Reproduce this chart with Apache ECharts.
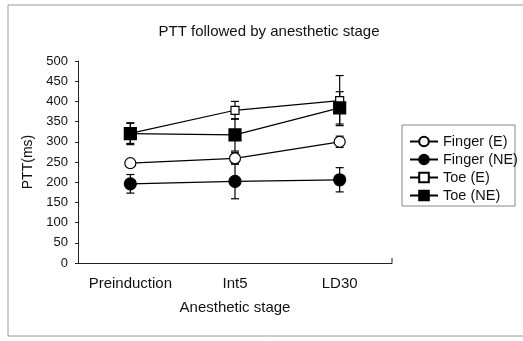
<!DOCTYPE html>
<html><head><meta charset="utf-8">
<script src="https://cdn.jsdelivr.net/npm/echarts@6/dist/echarts.min.js"></script>
<style>html,body{margin:0;padding:0;background:#fff}#c{width:523px;height:341px}</style>
</head><body><div id="c"></div>
<script>
const categories = ['Preinduction', 'Int5', 'LD30'];
const fingerE = [247, 259, 300];
const fingerEerr = [8, 14, 14];
const fingerNE = [196, 202, 206];
const fingerNEerr = [23, 43, 30];
const toeE = [321, 378, 402];
const toeEerr = [25, 22, 62];
const toeNE = [320, 317, 384];
const toeNEerr = [27, 40, 40];
const yTicks = [0, 50, 100, 150, 200, 250, 300, 350, 400, 450, 500];

const chart = echarts.init(document.getElementById('c'));
const F = 'Liberation Sans, Arial, sans-serif';

function errSeries(vals, errs) {
  return {
    type: 'custom', silent: true, z: 1,
    data: vals.map((v, i) => [i, v - errs[i], v + errs[i]]),
    renderItem: function (params, api) {
      const lo = api.coord([api.value(0), api.value(1)]);
      const hi = api.coord([api.value(0), api.value(2)]);
      const w = 4;
      const st = {stroke: '#000', lineWidth: 1.2};
      return {type: 'group', children: [
        {type: 'line', shape: {x1: lo[0], y1: lo[1], x2: hi[0], y2: hi[1]}, style: st},
        {type: 'line', shape: {x1: lo[0]-w, y1: lo[1], x2: lo[0]+w, y2: lo[1]}, style: st},
        {type: 'line', shape: {x1: hi[0]-w, y1: hi[1], x2: hi[0]+w, y2: hi[1]}, style: st}
      ]};
    }
  };
}
function lineSeries(name, vals, symbol, size, filled) {
  return {
    name: name, type: 'line', data: vals, symbol: symbol, symbolSize: size, z: 3,
    lineStyle: {color: '#000', width: 1.2},
    itemStyle: {color: filled ? '#000' : '#fff', borderColor: '#000', borderWidth: 1.2, opacity: 1},
    emphasis: {disabled: true}
  };
}

chart.setOption({
  animation: false,
  backgroundColor: '#fff',
  title: {text: 'PTT followed by anesthetic stage', left: 264, top: 19, textAlign: 'center',
    textStyle: {fontFamily: F, fontSize: 15, fontWeight: 'normal', color: '#111'}},
  grid: {left: 78, right: 131, top: 61, bottom: 78},
  legend: {
    orient: 'vertical', left: 404, top: 129, itemGap: 3, itemWidth: 28, itemHeight: 12,
    textStyle: {fontFamily: F, fontSize: 14.5, color: '#111'},
    data: ['Finger (E)', 'Finger (NE)', 'Toe (E)', 'Toe (NE)']
  },
  xAxis: {
    type: 'category', data: categories, boundaryGap: true,
    name: 'Anesthetic stage', nameLocation: 'middle', nameGap: 37,
    nameTextStyle: {fontFamily: F, fontSize: 15, color: '#111'},
    axisLine: {lineStyle: {color: '#222', width: 1}},
    axisTick: {show: false},
    axisLabel: {fontFamily: F, fontSize: 15, color: '#111', margin: 13, interval: 0}
  },
  yAxis: {
    type: 'value', min: 0, max: 500, interval: 50,
    name: 'PTT(ms)', nameLocation: 'middle', nameGap: 40, nameRotate: 90,
    nameTextStyle: {fontFamily: F, fontSize: 14, color: '#111'},
    axisLine: {show: true, lineStyle: {color: '#222', width: 1}},
    axisTick: {show: true, length: 3, lineStyle: {color: '#222'}},
    splitLine: {show: false},
    axisLabel: {fontFamily: F, fontSize: 13, color: '#111', margin: 10,
      formatter: v => yTicks.includes(v) ? String(v) : ''}
  },
  graphic: [
    {type: 'line', shape: {x1: 8, y1: 5, x2: 523, y2: 5}, style: {stroke: '#999', lineWidth: 1}, silent: true},
    {type: 'line', shape: {x1: 8, y1: 5, x2: 8, y2: 336}, style: {stroke: '#999', lineWidth: 1}, silent: true},
    {type: 'line', shape: {x1: 8, y1: 336, x2: 523, y2: 336}, style: {stroke: '#999', lineWidth: 1}, silent: true},
    {type: 'line', shape: {x1: 392, y1: 263, x2: 392, y2: 258}, style: {stroke: '#222', lineWidth: 1}, silent: true},
    {type: 'rect', shape: {x: 402, y: 125, width: 113, height: 81}, style: {fill: 'none', stroke: '#888', lineWidth: 1}, silent: true}
  ],
  series: [
    errSeries(fingerE, fingerEerr),
    errSeries(fingerNE, fingerNEerr),
    errSeries(toeE, toeEerr),
    errSeries(toeNE, toeNEerr),
    lineSeries('Finger (E)', fingerE, 'circle', 11, false),
    lineSeries('Finger (NE)', fingerNE, 'circle', 12, true),
    lineSeries('Toe (E)', toeE, 'rect', 8, false),
    lineSeries('Toe (NE)', toeNE, 'rect', 12, true)
  ]
});
</script></body></html>
